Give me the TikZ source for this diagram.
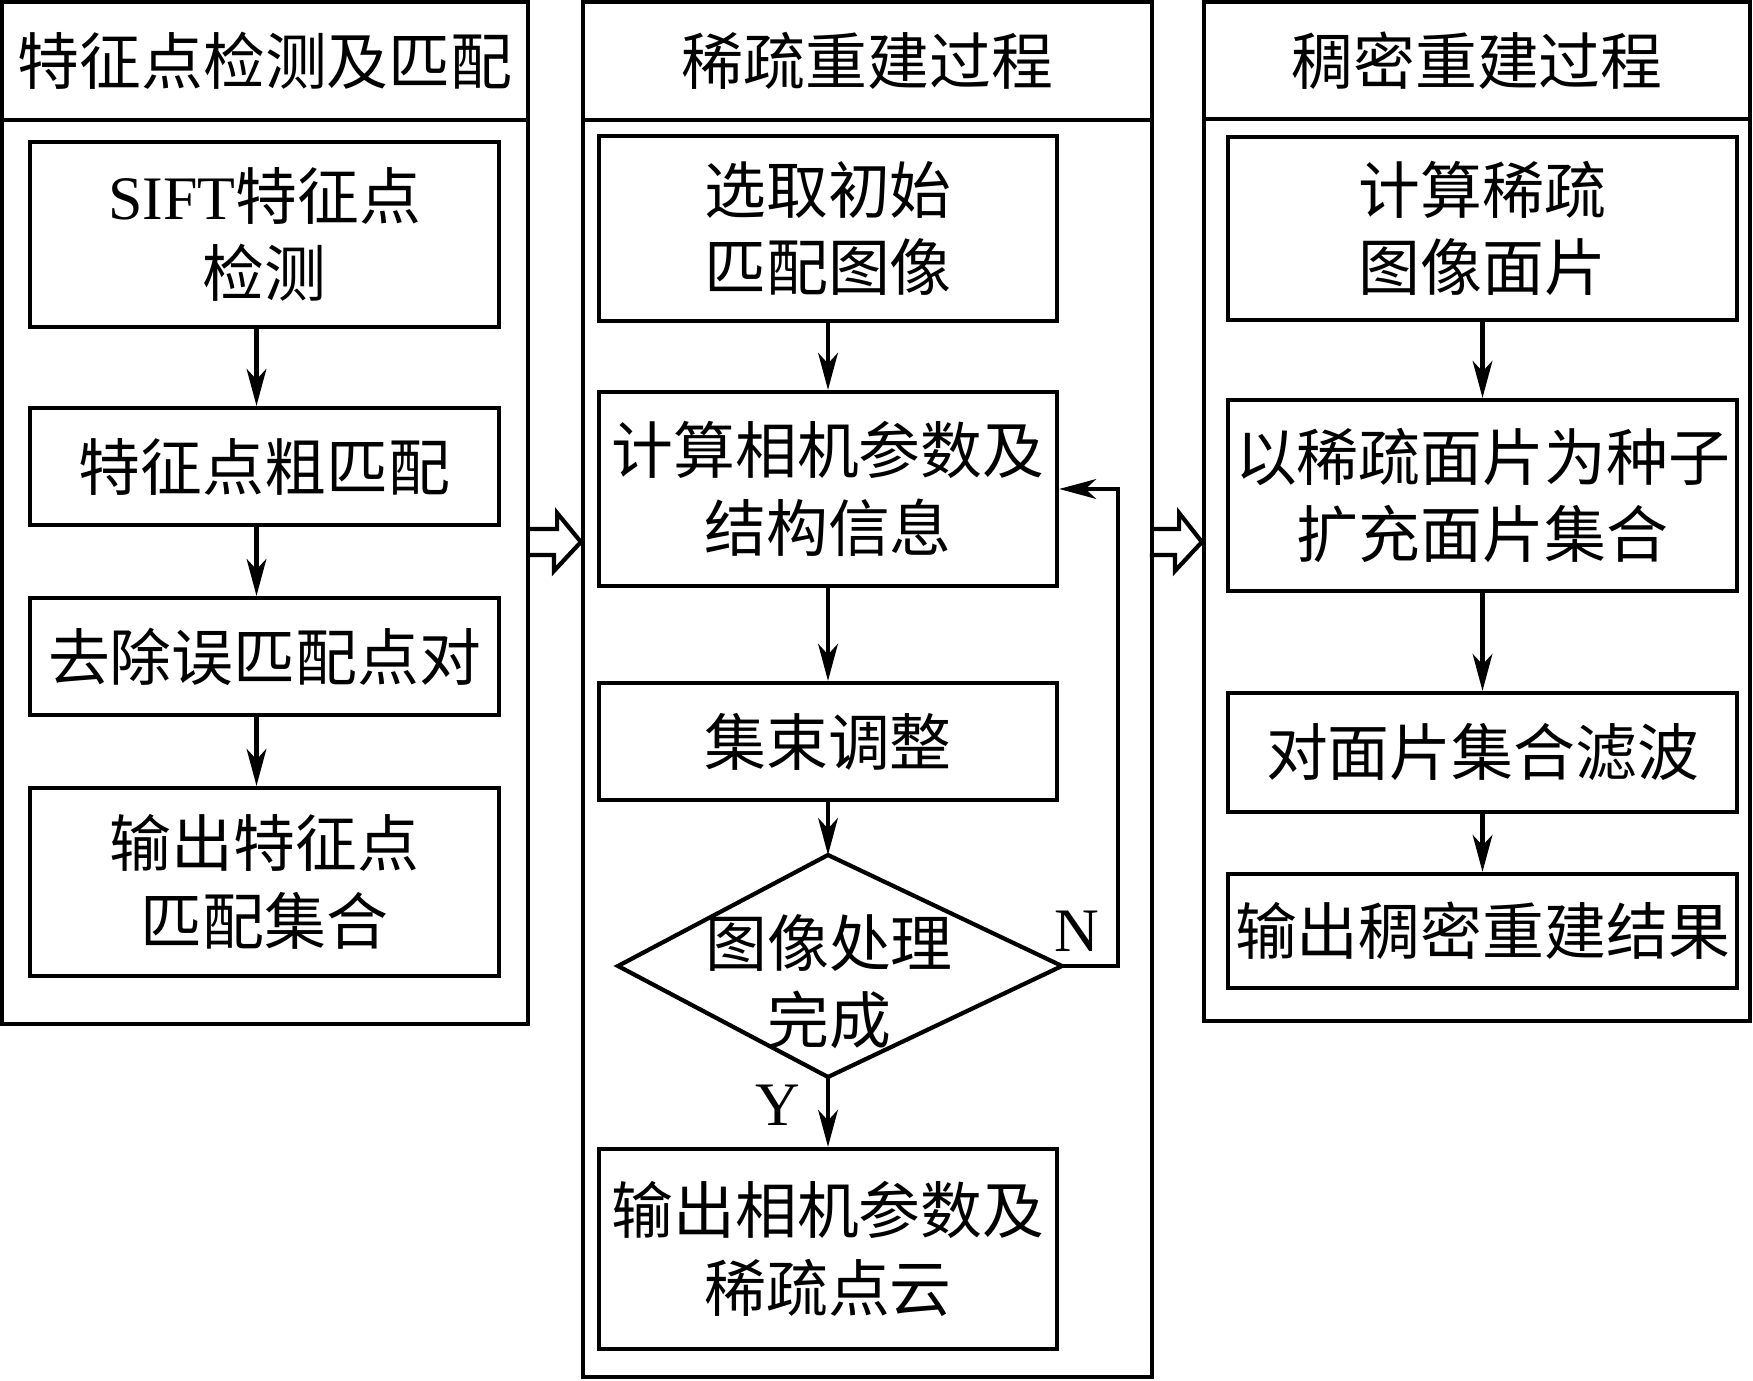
\documentclass[tikz,border=0pt]{standalone}
\usepackage{fontspec}
\setmainfont{Liberation Serif}
\newfontfamily\cjk{Noto Sans CJK SC}
\usetikzlibrary{arrows.meta,shapes.geometric,positioning,calc}
\tikzset{
    panel/.style={
    rectangle,draw=black,inner sep=0pt
    },
    title/.style={
    rectangle,draw=black,inner sep=0pt,minimum height=1.18cm,
    font=\cjk\fontsize{17.6pt}{22pt}\selectfont
    },
    block/.style={
    rectangle,draw=black,inner sep=0pt,align=center,
    font=\cjk\fontsize{17.6pt}{22pt}\selectfont
    },
    lbl/.style={
    inner sep=0pt,font=\fontsize{17.6pt}{22pt}\selectfont
    },
    arr/.style={
    -{Stealth[length=10.5pt,width=5.6pt,inset=3pt]}
    },
    hollow/.style={
    line join=miter
    },
}
\begin{document}
\begin{tikzpicture}[line width=1.2pt]
   \useasboundingbox (0,0) rectangle (17.53,-13.81);
   % left panel
   \node[title,minimum width=5.26cm] (h1) at (2.65,-0.61) {特征点检测及匹配};
   \node[panel,minimum width=5.26cm,minimum height=9.04cm] (p1) at (2.65,-5.72) {};
   \node[block,minimum width=4.69cm,minimum height=1.85cm] (b1) at (2.645,-2.345) {{\rmfamily SIFT}特征点\\检测};
   \node[block,minimum width=4.69cm,minimum height=1.17cm] (b2) at (2.645,-4.665) {特征点粗匹配};
   \node[block,minimum width=4.69cm,minimum height=1.17cm] (b3) at (2.645,-6.565) {去除误匹配点对};
   \node[block,minimum width=4.69cm,minimum height=1.88cm] (b4) at (2.645,-8.82) {输出特征点\\匹配集合};
   % middle panel
   \node[title,minimum width=5.69cm] (h2) at (8.675,-0.61) {稀疏重建过程};
   \node[panel,minimum width=5.69cm,minimum height=12.57cm] (p2) at (8.675,-7.485) {};
   \node[block,minimum width=4.58cm,minimum height=1.85cm] (m1) at (8.28,-2.285) {选取初始\\匹配图像};
   \node[block,minimum width=4.58cm,minimum height=1.94cm] (m2) at (8.28,-4.89) {计算相机参数及\\结构信息};
   \node[block,minimum width=4.58cm,minimum height=1.17cm] (m3) at (8.28,-7.415) {集束调整};
   % decision
   \coordinate (dn) at (8.28,-8.55);
   \coordinate (de) at (10.62,-9.66);
   \coordinate (ds) at (8.28,-10.77);
   \coordinate (dw) at (6.18,-9.66);
   \draw[line join=miter] (dn) -- (de) -- (ds) -- (dw) -- cycle;
   \node[block,draw=none] (dt) at (8.29,-9.82) {图像处理\\完成};
   \node[block,minimum width=4.58cm,minimum height=2.00cm] (m5) at (8.28,-12.49) {输出相机参数及\\稀疏点云};
   \node[lbl] (n) at (10.77,-9.31) {N};
   \node[lbl] (y) at (7.78,-11.05) {Y};
   % right panel
   \node[title,minimum width=5.46cm,minimum height=1.17cm] (h3) at (14.77,-0.605) {稠密重建过程};
   \node[panel,minimum width=5.46cm,minimum height=9.02cm] (p3) at (14.77,-5.70) {};
   \node[block,minimum width=5.09cm,minimum height=1.83cm] (r1) at (14.825,-2.285) {计算稀疏\\图像面片};
   \node[block,minimum width=5.09cm,minimum height=1.91cm] (r2) at (14.825,-4.955) {以稀疏面片为种子\\扩充面片集合};
   \node[block,minimum width=5.09cm,minimum height=1.19cm] (r3) at (14.825,-7.525) {对面片集合滤波};
   \node[block,minimum width=5.09cm,minimum height=1.14cm] (r4) at (14.825,-9.31) {输出稠密重建结果};

   \draw[arr] ([xshift=-0.08cm]b1.south) -- ([xshift=-0.08cm]b2.north);
   \draw[arr] ([xshift=-0.08cm]b2.south) -- ([xshift=-0.08cm]b3.north);
   \draw[arr] ([xshift=-0.08cm]b3.south) -- ([xshift=-0.08cm]b4.north);
   \path[arr]
    (m1) edge (m2)
    (m2) edge (m3)
    (m3.south) edge (dn)
    (ds) edge (m5.north)
    (r1) edge (r2)
    (r2) edge (r3)
    (r3) edge (r4);
   \draw[arr] (de) -- ++(0.56,0) |- (m2.east);

   % hollow arrows between panels
   \coordinate (a1) at (0,-5.42);
   \draw[hollow] ($(p1.east |- a1)+(0,0.13)$) -- ++(0.27,0) -- ++(0,0.16)
     -- (p2.west |- a1) -- ++(-0.27,-0.29) -- ++(0,0.16) -- ++(-0.27,0);
   \draw[hollow] ($(p2.east |- a1)+(0,0.13)$) -- ++(0.25,0) -- ++(0,0.16)
     -- (p3.west |- a1) -- ++(-0.27,-0.29) -- ++(0,0.16) -- ++(-0.25,0);
\end{tikzpicture}
\end{document}
